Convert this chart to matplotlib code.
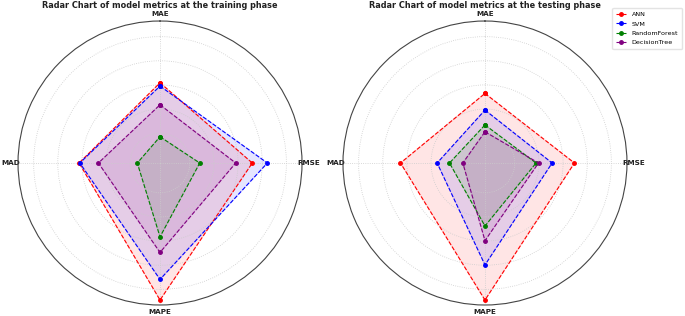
import numpy as np
import matplotlib.pyplot as plt

# metrics (normalised), order of axes clockwise from top
metrics = ["MAE", "RMSE", "MAPE", "MAD"]
models = ["ANN", "SVM", "RandomForest", "DecisionTree"]
colors = ["red", "blue", "green", "purple"]

train_ann = [0.565, 0.65, 0.965, 0.57]
train_svm = [0.542, 0.756, 0.82, 0.565]
train_rf = [0.185, 0.28, 0.52, 0.16]
train_dt = [0.41, 0.533, 0.63, 0.434]

test_ann = [0.49, 0.63, 0.965, 0.595]
test_svm = [0.373, 0.473, 0.718, 0.337]
test_rf = [0.268, 0.36, 0.444, 0.25]
test_dt = [0.22, 0.377, 0.547, 0.156]

grid_r = [0.21, 0.38, 0.55, 0.72, 0.89]

angles = np.linspace(0, 2 * np.pi, len(metrics), endpoint=False).tolist()
angles += angles[:1]

fig = plt.figure(figsize=(6.85, 3.16), dpi=100)
ax1 = fig.add_axes([0.0263, 0.0348, 0.4146, 0.8987], polar=True)
ax2 = fig.add_axes([0.5007, 0.0348, 0.4146, 0.8987], polar=True)


def radar(ax, data, title):
    ax.set_theta_offset(np.pi / 2)
    ax.set_theta_direction(-1)
    for vals, name, c in zip(data, models, colors):
        v = list(vals) + vals[:1]
        ax.plot(angles, v, color=c, linestyle="--", linewidth=0.8,
                marker="o", markersize=2.5, label=name)
        ax.fill(angles, v, color=c, alpha=0.1)
    ax.set_ylim(0, 1)
    ax.set_yticks(grid_r)
    ax.set_yticklabels([])
    ax.set_xticks(angles[:-1])
    ax.set_xticklabels(metrics, fontsize=5.2, fontweight="bold", color="#222222")
    ax.tick_params(axis="x", pad=-5.5)
    ax.grid(color="#cccccc", linestyle=":", linewidth=0.6)
    ax.spines["polar"].set_color("#444444")
    ax.spines["polar"].set_linewidth(0.8)
    ax.set_title(title, fontsize=5.9, fontweight="bold", color="#222222",
                 y=1.046, va="baseline", pad=0)


radar(ax1, [train_ann, train_svm, train_rf, train_dt],
      "Radar Chart of model metrics at the training phase")
radar(ax2, [test_ann, test_svm, test_rf, test_dt],
      "Radar Chart of model metrics at the testing phase")

handles, labels = ax2.get_legend_handles_labels()
fig.legend(handles, labels, loc="upper right", bbox_to_anchor=(1.0, 0.985),
           fontsize=4.6, frameon=True, edgecolor="#dddddd", handlelength=1.6,
           borderpad=0.6, labelspacing=0.6)

fig.savefig("out.png", dpi=100)
